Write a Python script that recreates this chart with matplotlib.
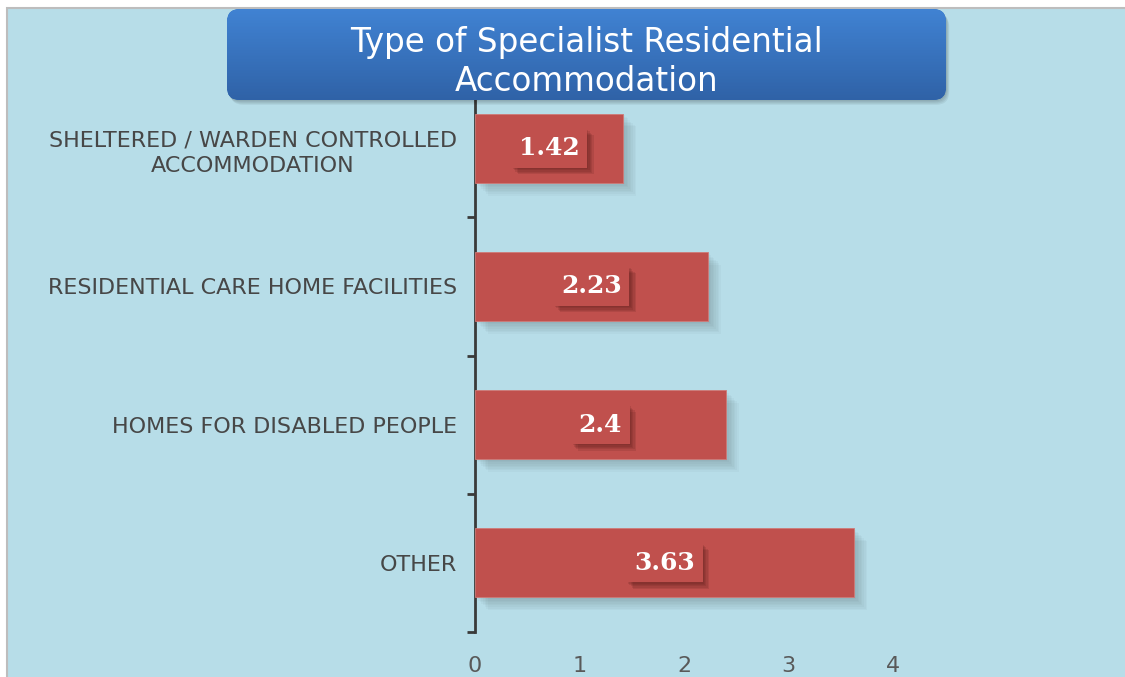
import numpy as np
import matplotlib.pyplot as plt
import matplotlib.transforms as mtransforms
from matplotlib.patches import FancyBboxPatch, Rectangle

# data
categories = ['SHELTERED / WARDEN CONTROLLED\nACCOMMODATION',
              'RESIDENTIAL CARE HOME FACILITIES',
              'HOMES FOR DISABLED PEOPLE',
              'OTHER']
values = [1.42, 2.23, 2.4, 3.63]
value_labels = ['1.42', '2.23', '2.4', '3.63']
xticks = [0, 1, 2, 3, 4]
title = 'Type of Specialist Residential\nAccommodation'

BG = '#b7dde8'
RED = '#c0504d'
W, H = 1125, 677

fig = plt.figure(figsize=(W / 100, H / 100), dpi=100)
fig.patch.set_facecolor('white')

# background panel (pixel coords)
bg = fig.add_axes([0, 0, 1, 1], zorder=0)
bg.set_xlim(0, W)
bg.set_ylim(H, 0)
bg.axis('off')
bg.add_patch(Rectangle((7, 8), W, H, facecolor=BG, edgecolor='#bdbdbd', lw=1.5))

# main chart
ax = fig.add_axes([475 / W, 1 - 632 / H, 418 / W, 553 / H], zorder=1)
ax.patch.set_alpha(0)
y = np.arange(len(categories))

# soft bar shadow
for k in range(1, 9):
    off = k * 1.6
    ax.barh(y + off / 138.0, values, left=off / 104.5, height=0.5,
            color='black', alpha=0.025, lw=0)
ax.barh(y, values, height=0.5, color=RED, edgecolor='#cf7a77', lw=0.6, zorder=3)

ax.set_xlim(0, 4)
ax.set_ylim(3.5, -0.5)
for s in ['top', 'right', 'bottom']:
    ax.spines[s].set_visible(False)
ax.spines['left'].set_color('#3a3a3a')
ax.spines['left'].set_linewidth(2)

ax.set_yticks(y)
ax.set_yticklabels(categories, multialignment='center', linespacing=1.35)
ax.set_yticks([-0.5, 0.5, 1.5, 2.5, 3.5], minor=True)
ax.tick_params(axis='y', which='major', length=0, pad=13, labelsize=16, labelcolor='#474747')
ax.tick_params(axis='y', which='minor', length=6, width=2, color='#3a3a3a', direction='out')
ax.set_xticks(xticks)
ax.tick_params(axis='x', length=0, pad=17, labelsize=16, labelcolor='#595959')

# value labels in small boxes
val_texts = []
for yi, v, lab in zip(y, values, value_labels):
    t = ax.text(v / 2, yi, lab, ha='center', va='center', fontsize=18, fontweight='bold',
                family='DejaVu Serif', color='white', zorder=5,
                bbox=dict(boxstyle='square,pad=0.3', fc=RED, ec='none'))
    val_texts.append(t)

# title box
top = fig.add_axes([0, 0, 1, 1], zorder=3)
top.set_xlim(0, W)
top.set_ylim(H, 0)
top.axis('off')
x0, y0, x1, y1 = 227, 9, 946, 100
for k in range(1, 5):
    top.add_patch(FancyBboxPatch((x0 + k * 0.8, y0 + k * 1.2), x1 - x0, y1 - y0,
                                 boxstyle='round,pad=0,rounding_size=13',
                                 fc='black', ec='none', alpha=0.06))
box = FancyBboxPatch((x0, y0), x1 - x0, y1 - y0, boxstyle='round,pad=0,rounding_size=13',
                     fc='#3772bd', ec='none')
top.add_patch(box)
c_top = np.array([0x40, 0x82, 0xd2]) / 255
c_bot = np.array([0x2f, 0x62, 0xa7]) / 255
n = 60
hs = (y1 - y0) / n
for i in range(n):
    f = i / (n - 1)
    strip = Rectangle((x0, y0 + i * hs), x1 - x0, hs + 0.6, fc=c_top * (1 - f) + c_bot * f,
                      ec='none')
    top.add_patch(strip)
    strip.set_clip_path(box)
top.text((x0 + x1) / 2, 62, title, ha='center', va='center', color='white',
         fontsize=23.5, linespacing=1.25)

# drop shadows behind the value boxes (display coords)
fig.canvas.draw()
for t in val_texts:
    bb = t.get_bbox_patch().get_window_extent()
    for k in range(1, 6):
        d = k * 1.3
        ax.add_patch(Rectangle((bb.x0 + d, bb.y0 - d), bb.width, bb.height,
                               transform=mtransforms.IdentityTransform(),
                               fc='#5a1c1a', ec='none', alpha=0.15, zorder=4))

fig.savefig('out.png', dpi=100)
